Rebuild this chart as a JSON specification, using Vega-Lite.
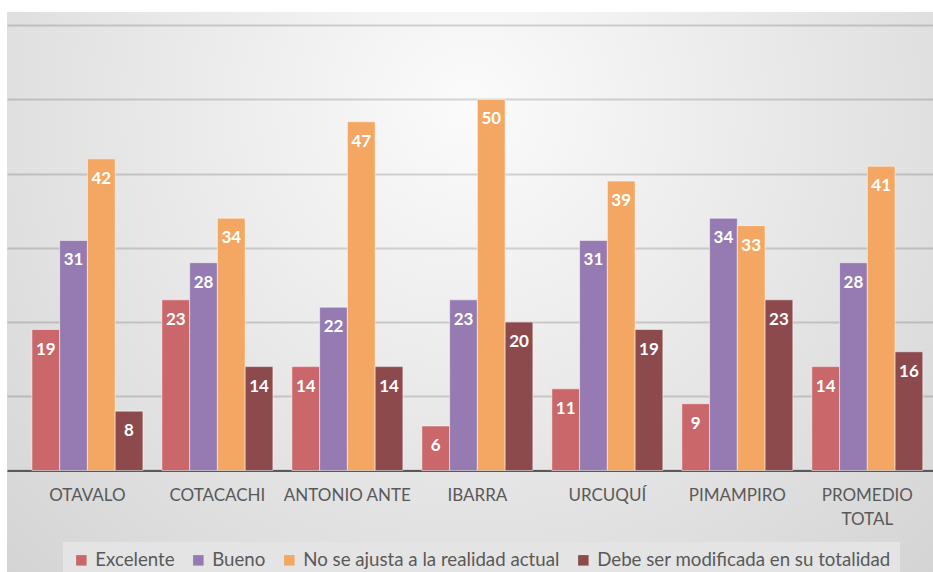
{
  "$schema": "https://vega.github.io/schema/vega-lite/v6.json",
  "autosize": {"type": "none"},
  "padding": {"left": 7, "top": 12, "right": 0, "bottom": 0},
  "width": 926,
  "height": 560,
  "background": "white",
  "config": {
    "font": "Lato",
    "view": {
      "stroke": null,
      "fill": {
        "gradient": "radial",
        "x1": 0.5, "y1": 0.3, "r1": 0,
        "x2": 0.5, "y2": 0.3, "r2": 0.75,
        "stops": [
          {"offset": 0, "color": "#fbfbfb"},
          {"offset": 1, "color": "#d2d2d2"}
        ]
      }
    }
  },
  "data": {
    "values": [
      {"municipio": "OTAVALO", "categoria": "Excelente", "valor": 19},
      {"municipio": "OTAVALO", "categoria": "Bueno", "valor": 31},
      {"municipio": "OTAVALO", "categoria": "No se ajusta a la realidad actual", "valor": 42},
      {"municipio": "OTAVALO", "categoria": "Debe ser modificada en su totalidad", "valor": 8},
      {"municipio": "COTACACHI", "categoria": "Excelente", "valor": 23},
      {"municipio": "COTACACHI", "categoria": "Bueno", "valor": 28},
      {"municipio": "COTACACHI", "categoria": "No se ajusta a la realidad actual", "valor": 34},
      {"municipio": "COTACACHI", "categoria": "Debe ser modificada en su totalidad", "valor": 14},
      {"municipio": "ANTONIO ANTE", "categoria": "Excelente", "valor": 14},
      {"municipio": "ANTONIO ANTE", "categoria": "Bueno", "valor": 22},
      {"municipio": "ANTONIO ANTE", "categoria": "No se ajusta a la realidad actual", "valor": 47},
      {"municipio": "ANTONIO ANTE", "categoria": "Debe ser modificada en su totalidad", "valor": 14},
      {"municipio": "IBARRA", "categoria": "Excelente", "valor": 6},
      {"municipio": "IBARRA", "categoria": "Bueno", "valor": 23},
      {"municipio": "IBARRA", "categoria": "No se ajusta a la realidad actual", "valor": 50},
      {"municipio": "IBARRA", "categoria": "Debe ser modificada en su totalidad", "valor": 20},
      {"municipio": "URCUQUÍ", "categoria": "Excelente", "valor": 11},
      {"municipio": "URCUQUÍ", "categoria": "Bueno", "valor": 31},
      {"municipio": "URCUQUÍ", "categoria": "No se ajusta a la realidad actual", "valor": 39},
      {"municipio": "URCUQUÍ", "categoria": "Debe ser modificada en su totalidad", "valor": 19},
      {"municipio": "PIMAMPIRO", "categoria": "Excelente", "valor": 9},
      {"municipio": "PIMAMPIRO", "categoria": "Bueno", "valor": 34},
      {"municipio": "PIMAMPIRO", "categoria": "No se ajusta a la realidad actual", "valor": 33},
      {"municipio": "PIMAMPIRO", "categoria": "Debe ser modificada en su totalidad", "valor": 23},
      {"municipio": "PROMEDIO TOTAL", "categoria": "Excelente", "valor": 14},
      {"municipio": "PROMEDIO TOTAL", "categoria": "Bueno", "valor": 28},
      {"municipio": "PROMEDIO TOTAL", "categoria": "No se ajusta a la realidad actual", "valor": 41},
      {"municipio": "PROMEDIO TOTAL", "categoria": "Debe ser modificada en su totalidad", "valor": 16}
    ]
  },
  "encoding": {
    "x": {
      "field": "municipio",
      "type": "nominal",
      "sort": null,
      "scale": {"paddingInner": 0.146, "paddingOuter": 0.135, "align": 0.71},
      "axis": {
        "title": null,
        "orient": "bottom",
        "offset": -101.5,
        "labelAngle": 0,
        "ticks": false,
        "tickSize": 0,
        "labelPadding": 17,
        "labelFont": "Lato",
        "labelFontSize": 17,
        "labelColor": "#595959",
        "labelLineHeight": 24,
        "labelExpr": "datum.label == 'PROMEDIO TOTAL' ? ['PROMEDIO', 'TOTAL'] : datum.label",
        "domainColor": "#595959",
        "domainWidth": 2,
        "grid": false
      }
    },
    "xOffset": {
      "field": "categoria",
      "type": "nominal",
      "sort": null,
      "scale": {"paddingInner": 0, "paddingOuter": 0}
    },
    "y": {
      "field": "valor",
      "type": "quantitative",
      "scale": {"domain": [-13.68, 61.79], "nice": false, "zero": false},
      "axis": {
        "title": null,
        "labels": false,
        "ticks": false,
        "domain": false,
        "grid": true,
        "values": [0, 10, 20, 30, 40, 50, 60],
        "gridColor": "#000000",
        "gridOpacity": 0.15,
        "gridWidth": 2
      }
    }
  },
  "layer": [
    {
      "mark": {"type": "bar", "stroke": "#ffffff", "strokeWidth": 1, "strokeOpacity": 0.5},
      "encoding": {
        "y2": {"datum": 0},
        "color": {
          "field": "categoria",
          "type": "nominal",
          "sort": null,
          "scale": {
            "domain": ["Excelente", "Bueno", "No se ajusta a la realidad actual", "Debe ser modificada en su totalidad"],
            "range": ["#C9676A", "#957BB1", "#F4A762", "#8C4A4D"]
          },
          "legend": {
            "title": null,
            "orient": "none",
            "legendX": 56,
            "legendY": 530,
            "direction": "horizontal",
            "columns": 4,
            "gridAlign": "none",
            "columnPadding": 14,
            "padding": 9,
            "fillColor": "#e4e4e4",
            "symbolType": "square",
            "symbolSize": 110,
            "symbolStrokeWidth": 0,
            "symbolOpacity": 1,
            "labelOffset": 4.5,
            "labelFont": "Lato",
            "labelFontSize": 18.7,
            "labelColor": "#595959",
            "labelLimit": 400
          }
        }
      }
    },
    {
      "mark": {
        "type": "text",
        "color": "white",
        "fontWeight": "bold",
        "fontSize": 17,
        "font": "Lato",
        "baseline": "middle",
        "dy": 20
      },
      "encoding": {
        "text": {"field": "valor", "type": "quantitative"}
      }
    }
  ]
}
